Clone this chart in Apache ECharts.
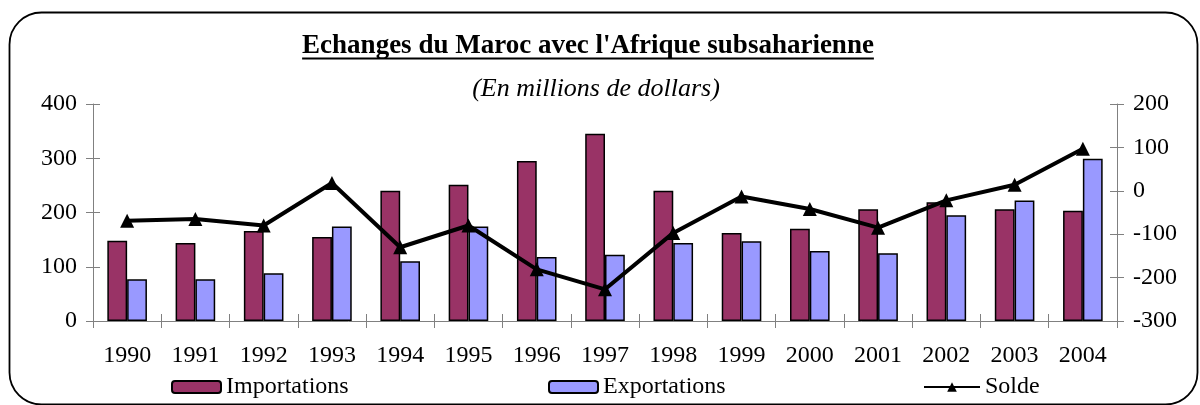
<!DOCTYPE html>
<html><head><meta charset="utf-8">
<script src="https://cdn.jsdelivr.net/npm/echarts@6/dist/echarts.min.js"></script>
<style>html,body{margin:0;padding:0;background:#fff}#c{width:1200px;height:405px}</style>
</head><body><div id="c"></div>
<script>
const years = ['1990','1991','1992','1993','1994','1995','1996','1997','1998','1999','2000','2001','2002','2003','2004'];
const importations = [148,144,166,155,240,251,295,345,240,162,170,206,219,206,203];
const exportations = [77,77,88,174,110,174,118,122,144,147,129,125,195,222,299];
const solde = [-69,-65,-80,18,-130,-80,-181,-227,-97,-13,-42,-85,-22,14,97];
const titleText = "Echanges du Maroc avec l'Afrique subsaharienne";
const subtitleText = "(En millions de dollars)";

const FONT = '"Liberation Serif","Times New Roman",serif';
const chart = echarts.init(document.getElementById('c'));

const mc = document.createElement('canvas').getContext('2d');
mc.font = 'bold 27px ' + FONT;
const tw = mc.measureText(titleText).width;
const tcx = 588;

const yBase = {type:'value', gridIndex:0, splitLine:{show:false}};
chart.setOption({
  animation:false,
  backgroundColor:'#fff',
  textStyle:{fontFamily:FONT},
  grid:{left:93, right:83, top:104, bottom:84, containLabel:false},
  graphic:[
    {type:'rect', shape:{x:9.5, y:12.5, width:1188, height:392, r:32}, style:{fill:'none', stroke:'#000', lineWidth:1.8}, z:-1},
    {type:'text', x:tcx, y:46, style:{text:titleText, font:'bold 27px '+FONT, fill:'#000', textAlign:'center', textVerticalAlign:'middle'}},
    {type:'line', shape:{x1:tcx-tw/2, y1:58.5, x2:tcx+tw/2, y2:58.5}, style:{stroke:'#000', lineWidth:2}},
    {type:'text', x:596, y:89, style:{text:subtitleText, font:'italic 26px '+FONT, fill:'#000', textAlign:'center', textVerticalAlign:'middle'}}
  ],
  legend:[
    {data:['Importations'], left:166, top:370, itemWidth:49, itemHeight:12, textStyle:{fontFamily:FONT, fontSize:24, color:'#000'}},
    {data:['Exportations'], left:543, top:370, itemWidth:49, itemHeight:12, textStyle:{fontFamily:FONT, fontSize:24, color:'#000'}},
    {data:['Solde'], left:918, top:370, itemWidth:56, itemHeight:12, textStyle:{fontFamily:FONT, fontSize:24, color:'#000'}}
  ],
  xAxis:[
    {type:'category', data:years, position:'bottom',
     axisLine:{onZero:false, lineStyle:{color:'#808080', width:1}},
     axisTick:{show:true, inside:false, length:7, lineStyle:{color:'#808080'}},
     axisLabel:{color:'#000', fontSize:24, fontFamily:FONT, margin:23}},
    {type:'category', data:years, position:'bottom', gridIndex:0, offset:0,
     axisLine:{show:false, onZero:false}, axisLabel:{show:false},
     axisTick:{show:true, inside:true, length:7, lineStyle:{color:'#808080'}}}
  ],
  yAxis:[
    Object.assign({}, yBase, {position:'left', min:0, max:400, interval:100,
      axisLine:{show:true, lineStyle:{color:'#808080'}},
      axisTick:{show:true, length:7, lineStyle:{color:'#808080'}},
      axisLabel:{color:'#000', fontSize:24, fontFamily:FONT, margin:16}}),
    Object.assign({}, yBase, {position:'right', min:-300, max:200, interval:100,
      axisLine:{show:true, lineStyle:{color:'#808080'}},
      axisTick:{show:true, length:7, lineStyle:{color:'#808080'}},
      axisLabel:{color:'#000', fontSize:24, fontFamily:FONT, margin:16}}),
    Object.assign({}, yBase, {position:'left', offset:0, min:0, max:400, interval:100,
      axisLine:{show:false}, axisLabel:{show:false},
      axisTick:{show:true, inside:true, length:7, lineStyle:{color:'#808080'}}}),
    Object.assign({}, yBase, {position:'right', offset:0, min:-300, max:200, interval:100,
      axisLine:{show:false}, axisLabel:{show:false},
      axisTick:{show:true, inside:true, length:7, lineStyle:{color:'#808080'}}})
  ],
  series:[
    {name:'Importations', type:'bar', data:importations, xAxisIndex:0, yAxisIndex:0,
     barGap:'0%', barCategoryGap:'42%',
     itemStyle:{color:'#993366', borderColor:'#000', borderWidth:1.5}},
    {name:'Exportations', type:'bar', data:exportations, xAxisIndex:0, yAxisIndex:0,
     barGap:'0%', barCategoryGap:'42%',
     itemStyle:{color:'#9999FF', borderColor:'#000', borderWidth:1.5}},
    {name:'Solde', type:'line', data:solde, xAxisIndex:0, yAxisIndex:1,
     symbol:'triangle', symbolSize:14,
     lineStyle:{color:'#000', width:4},
     itemStyle:{color:'#000'}, z:5}
  ]
});
</script></body></html>
